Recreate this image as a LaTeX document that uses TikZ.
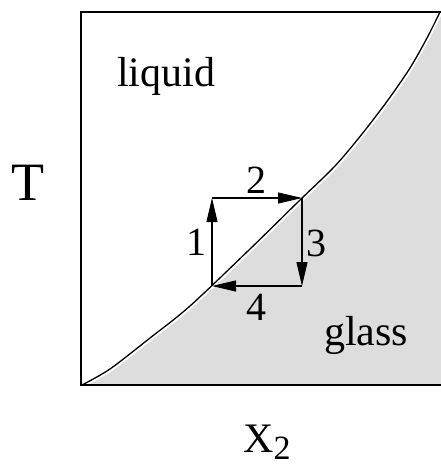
\documentclass[tikz,border=0pt]{standalone}
\usepackage{fontspec}
\setmainfont{Liberation Serif}
\usepackage{tikz}
\usetikzlibrary{arrows.meta}
\definecolor{glassgray}{HTML}{DDDDDD}

\begin{document}
\begin{tikzpicture}[
  x=1pt, y=-1pt,
  >={Triangle[length=24pt,width=11pt]},
  frame/.style={draw=black, line width=2pt},
  phaseline/.style={draw=black, line width=1.3pt},
  leg/.style={->, line width=1.1pt},
  region/.style={font=\fontsize{42}{48}\selectfont, inner sep=0pt, anchor=base west},
  legnum/.style={font=\fontsize{40}{46}\selectfont, inner sep=0pt, anchor=base},
  axis/.style={inner sep=0pt, anchor=base west},
]
\useasboundingbox (0,0) rectangle (441,468);

% glass region, a little off the line
\begin{scope}
  \clip (81,12) rectangle (443,385);
  \fill[glassgray, shift={(2,2)}] plot[smooth] coordinates {(82,385) (110,369)
    (150,338) (190,306) (250,249) (300,200) (335,166) (362,134) (388,100)
    (410,68) (427,38) (440,12) (446,0)} -- (470,0) -- (470,400) -- (60,400) -- cycle;
\end{scope}

% phase boundary
\draw[phaseline] plot[smooth] coordinates {(82,385) (110,369) (150,338)
  (190,306) (250,249) (300,200) (335,166) (362,134) (388,100) (410,68)
  (427,38) (440,12)};

% frame
\draw[frame] (81,12) rectangle (443,385);

% cycle corners
\coordinate (c1) at (212,286);
\coordinate (c2) at (212,198);
\coordinate (c3) at (302,198);
\coordinate (c4) at (302,286);

\draw[leg] (c1) -- (c2);
\draw[leg] (c2) -- (c3);
\draw[leg] (c3) -- (c4);
\draw[leg] (c4) -- (c1);

\node[legnum] (n1) at (196,255) {1};
\node[legnum] (n2) at (256,193) {2};
\node[legnum] (n3) at (316,256) {3};
\node[legnum] (n4) at (256,320) {4};

% labels
\node[region] (liquid) at (117,87) {liquid};
\node[region] (glass) at (324,345) {glass};
\node[axis, font=\fontsize{54}{60}\selectfont] (temp) at (11,200) {T};
\node[axis, font=\fontsize{42}{48}\selectfont] (conc) at (243,452)
  {X\raisebox{-7pt}{\fontsize{34}{38}\selectfont 2}};
\end{tikzpicture}
\end{document}
